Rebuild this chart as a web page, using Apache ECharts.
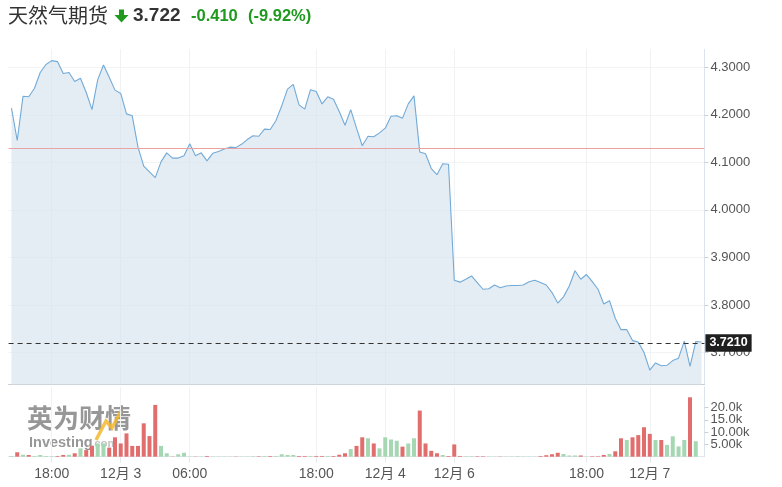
<!DOCTYPE html>
<html><head><meta charset="utf-8">
<script src="https://cdn.jsdelivr.net/npm/echarts@6/dist/echarts.min.js"></script>
<style>html,body{margin:0;padding:0;background:#fff}#c{width:782px;height:487px}</style>
</head><body><div id="c"></div>
<script>
// ---- data ----
const prices = [
  4.214,4.146,4.239,4.238,4.256,4.289,4.306,4.314,4.312,4.287,
  4.289,4.270,4.277,4.247,4.211,4.274,4.305,4.279,4.252,4.245,
  4.202,4.198,4.132,4.092,4.080,4.068,4.101,4.120,4.109,4.109,
  4.114,4.139,4.114,4.120,4.103,4.119,4.123,4.128,4.132,4.131,
  4.138,4.148,4.156,4.155,4.170,4.169,4.188,4.219,4.254,4.264,
  4.221,4.212,4.253,4.249,4.223,4.238,4.233,4.207,4.178,4.211,
  4.172,4.135,4.155,4.154,4.162,4.172,4.197,4.198,4.193,4.223,
  4.240,4.122,4.118,4.087,4.074,4.097,4.096,3.852,3.848,3.854,
  3.861,3.847,3.833,3.834,3.842,3.836,3.840,3.841,3.841,3.842,
  3.849,3.852,3.847,3.842,3.826,3.804,3.817,3.840,3.872,3.854,
  3.864,3.849,3.833,3.802,3.809,3.772,3.748,3.748,3.725,3.722,
  3.700,3.663,3.678,3.672,3.673,3.683,3.688,3.724,3.671,3.723,
  3.722
];
const volumes = [ // thousands
  0.3,1.8,0.8,0.7,0.3,0.7,0.3,0.2,0.3,0.7,
  0.8,1.4,3.4,2.7,4.4,5.4,5.4,3.7,7.9,5.4,
  9.5,4.4,4.4,13.6,8.4,21.1,4.4,1.4,0.1,1.0,
  1.6,0.1,0.1,0.1,0.3,0.1,0.1,0.1,0.1,0.1,
  0.1,0.1,0.2,0.2,0.3,0.3,0.3,1.0,0.7,0.7,
  0.3,0.3,0.3,0.3,0.3,0.3,0.3,0.8,1.4,3.1,
  4.4,7.9,7.5,5.4,3.4,7.9,7.0,6.5,4.1,5.4,
  7.5,18.8,5.4,2.4,1.4,0.7,0.3,5.0,0.3,0.2,
  0.2,0.2,0.2,0.1,0.1,0.1,0.1,0.1,0.2,0.1,
  0.1,0.1,0.3,0.6,1.0,1.6,1.1,0.5,0.5,0.5,
  0.1,0.2,0.2,0.7,1.1,2.2,7.5,6.8,7.9,8.8,
  12.0,9.3,6.8,6.8,4.8,8.3,4.2,6.8,24.2,6.3,
  0
];
const tickIndex  = [7, 19, 31, 53, 65, 77, 100, 111];
const tickLabels = ['18:00', '12月 3', '06:00', '18:00', '12月 4', '12月 6', '18:00', '12月 7'];
const prevClose = 4.131;
const lastPrice = 3.721;
const volTicks = [5, 10, 15, 20];
const volTickLabels = ['5.00k', '10.00k', '15.0k', '20.0k'];
const titleName = '天然气期货';
const titlePrice = '3.722';
const titleChange = '-0.410';
const titlePct = '(-9.92%)';

// ---- chart ----
const GREEN = '#a6d7b3', RED = '#e26d6d', TXTGREEN = '#1f9a1f';
const categories = prices.map((_, i) => String(i));
const labelOf = {};
tickIndex.forEach((t, k) => { labelOf[t] = tickLabels[k]; });
const isTick = (i) => labelOf[i] !== undefined;
const volLabelOf = {};
volTicks.forEach((t, k) => { volLabelOf[t] = volTickLabels[k]; });
const volTicksA = volTicks.filter((_, k) => k % 2 === 0);
const volTicksB = volTicks.filter((_, k) => k % 2 === 1);
const volData = volumes.map((v, i) => ({
  value: v,
  itemStyle: { color: (i === 0 || prices[i] >= prices[i - 1]) ? GREEN : RED }
}));

const FONT = '"Liberation Sans", Arial, "Noto Sans CJK SC", sans-serif';
const volAxis = (ticks, showLine) => ({
  type: 'value', gridIndex: 1, position: 'right', min: 0, max: 28.4, interval: 5,
  axisLine: { show: showLine, lineStyle: { color: '#dbe4ee' } },
  axisTick: { show: true, length: 4, customValues: ticks, lineStyle: { color: '#d0d0d0' } },
  axisLabel: { show: true, margin: 6, customValues: ticks, hideOverlap: false,
    formatter: (v) => volLabelOf[Math.round(v)] || '', color: '#555', fontSize: 13, fontFamily: FONT },
  splitLine: { show: false }
});
const chart = echarts.init(document.getElementById('c'), null, { renderer: 'canvas' });
chart.setOption({
  animation: false,
  backgroundColor: '#fff',
  textStyle: { fontFamily: FONT },
  graphic: [
    { type: 'text', left: 8, top: 5, z: 10,
      style: { text: titleName, font: '20px "Noto Sans CJK SC", sans-serif', fill: '#333' } },
    { type: 'polygon', z: 10,
      shape: { points: [[119, 9.5], [124, 9.5], [124, 15], [128.5, 15], [121.5, 22.5], [114.5, 15], [119, 15]] },
      style: { fill: TXTGREEN } },
    { type: 'text', left: 133, top: 6, z: 10,
      style: { text: titlePrice, font: 'bold 19px "Liberation Sans", Arial, sans-serif', fill: '#333' } },
    { type: 'text', left: 191, top: 7.5, z: 10,
      style: { text: titleChange, font: 'bold 16.5px "Liberation Sans", Arial, sans-serif', fill: TXTGREEN } },
    { type: 'text', left: 248, top: 7.5, z: 10,
      style: { text: titlePct, font: 'bold 16.5px "Liberation Sans", Arial, sans-serif', fill: TXTGREEN } },
    // watermark
    { type: 'text', left: 27, top: 405, z: -1, silent: true,
      style: { text: '英为财情', font: 'bold 26px "Noto Sans CJK SC", sans-serif', fill: '#858585', opacity: 0.85 } },
    { type: 'polyline', z: -1, silent: true,
      shape: { points: [[96, 440], [106, 421], [112, 428], [121, 411]] },
      style: { stroke: '#f3b72b', lineWidth: 3.5, opacity: 0.85 } },
    { type: 'text', left: 29, top: 435, z: -1, silent: true,
      style: { text: 'Investing', font: 'bold 14.5px "Liberation Sans", Arial, sans-serif', fill: '#858585', opacity: 0.85 } },
    { type: 'text', left: 91, top: 438, z: -1, silent: true,
      style: { text: '.com', font: 'bold 11.5px "Liberation Sans", Arial, sans-serif', fill: '#b8b8b8', opacity: 0.85 } }
  ],
  grid: [
    { left: 8.6, right: 77.6, top: 49.3, bottom: 102.3 },
    { left: 8.6, right: 77.6, top: 387, bottom: 30.3 }
  ],
  xAxis: [
    { type: 'category', gridIndex: 0, data: categories, boundaryGap: true,
      axisLine: { show: true, lineStyle: { color: '#c9ccd0', width: 1 } },
      axisTick: { show: false }, axisLabel: { show: false },
      splitLine: { show: true, interval: (i) => isTick(i), alignWithLabel: true,
        lineStyle: { color: '#f1f2f4', width: 1 } } },
    { type: 'category', gridIndex: 1, data: categories, boundaryGap: true,
      axisLine: { show: true, lineStyle: { color: '#e2e7ed', width: 1 } },
      axisTick: { show: true, interval: (i) => isTick(i), alignWithLabel: true, length: 6,
        lineStyle: { color: '#e6e8eb' } },
      axisLabel: { show: true, interval: (i) => isTick(i), margin: 10,
        formatter: (v) => labelOf[+v] || '', color: '#555', fontSize: 14,
        fontFamily: FONT },
      splitLine: { show: true, interval: (i) => isTick(i), alignWithLabel: true,
        lineStyle: { color: '#f1f2f4', width: 1 } } }
  ],
  yAxis: [
    { type: 'value', gridIndex: 0, position: 'right', min: 3.6322, max: 4.3379, splitNumber: 7,
      axisLine: { show: true, lineStyle: { color: '#dbe4ee' } },
      axisTick: { show: true, length: 4, lineStyle: { color: '#d0d0d0' } },
      axisLabel: { show: true, showMinLabel: false, showMaxLabel: false, margin: 6,
        formatter: (v) => v.toFixed(4), color: '#555', fontSize: 13, fontFamily: FONT },
      splitLine: { show: true, showMinLine: false, showMaxLine: false,
        lineStyle: { color: '#f2f3f5' } } },
    volAxis(volTicksA, true),
    volAxis(volTicksB, false)
  ],
  series: [
    { type: 'line', xAxisIndex: 0, yAxisIndex: 0, data: prices, showSymbol: false, symbol: 'none',
      lineStyle: { color: '#72aad7', width: 1.1 },
      areaStyle: { color: '#d3e2ee', opacity: 0.62 },
      z: 3,
      markLine: {
        silent: true, symbol: 'none', animation: false,
        data: [
          { yAxis: prevClose, lineStyle: { color: '#e9a3a3', type: 'solid', width: 1 }, label: { show: false } },
          { yAxis: lastPrice, lineStyle: { color: '#333', type: [5, 4], width: 1 },
            label: { show: true, position: 'end', distance: 1, formatter: lastPrice.toFixed(4),
              backgroundColor: '#1f1f1f', color: '#fff', fontWeight: 'bold', fontSize: 12.5,
              fontFamily: FONT, padding: [3, 4, 2, 4] } }
        ]
      } },
    { type: 'bar', xAxisIndex: 1, yAxisIndex: 1, data: volData, barWidth: 4, z: 3 }
  ]
});
</script>
</body></html>
